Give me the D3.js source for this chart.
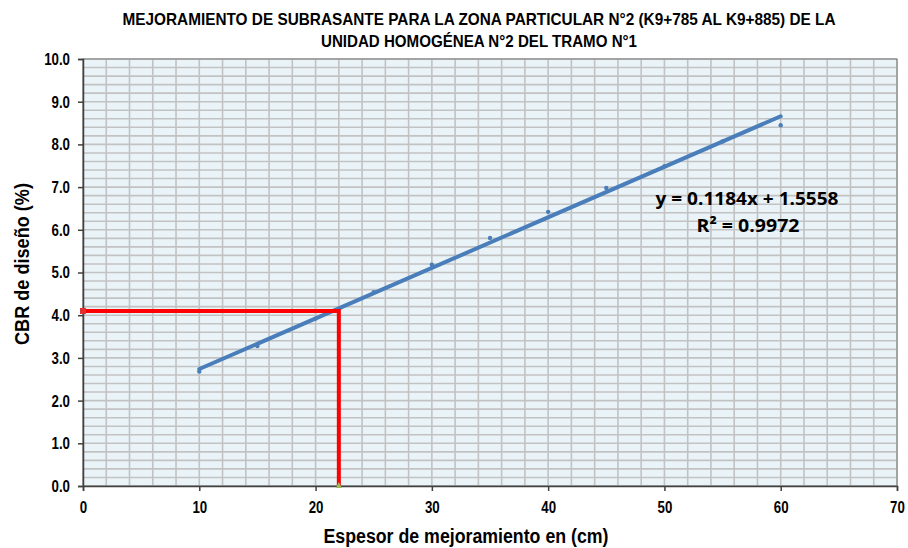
<!DOCTYPE html>
<html><head><meta charset="utf-8">
<script src="https://cdn.jsdelivr.net/npm/d3@7"></script>
<style>
body{margin:0;background:#fff;}
text{font-family:"Liberation Sans Narrow","Arial Narrow","Liberation Sans",sans-serif;}
</style></head>
<body><svg id="c" width="908" height="548"></svg>
<script>
const titleLines = ["MEJORAMIENTO DE SUBRASANTE PARA LA ZONA PARTICULAR N°2 (K9+785 AL K9+885) DE LA","UNIDAD HOMOGÉNEA N°2 DEL TRAMO N°1"];
const xTicks = [0,10,20,30,40,50,60,70];
const yTicks = [0,1,2,3,4,5,6,7,8,9,10];
const espesor = [10,15,20,25,30,35,40,45,50,55,60];
const cbr = [2.68,3.28,3.92,4.54,5.18,5.81,6.42,6.98,7.49,8.07,8.45];
const slope = 0.1184, intercept = 1.5558;
const trendX = [10,60];
const designX = 22, designY = 4.1;
const eqText = "y = 0.1184x + 1.5558";
const r2Text = "R² = 0.9972";

const svg = d3.select("#c");
const L=83, R=897, T=59, B=486;
const x = d3.scaleLinear().domain([0,70]).range([L,R]);
const y = d3.scaleLinear().domain([0,10]).range([B,T]);
function condense(sel, f){ sel.each(function(){ const w=this.getComputedTextLength(); d3.select(this).attr("textLength",w*f).attr("lengthAdjust","spacingAndGlyphs"); }); }

svg.append("rect").attr("x",L).attr("y",T).attr("width",R-L).attr("height",B-T).attr("fill","#eaf4f8");
const g = svg.append("g");
d3.range(0,70.001,2).forEach(v=>g.append("line").attr("x1",x(v)).attr("x2",x(v)).attr("y1",T).attr("y2",B).attr("stroke","#c2c2c2").attr("stroke-width",1.6));
d3.range(0,10.001,0.2).forEach(v=>g.append("line").attr("x1",L).attr("x2",R).attr("y1",y(v)).attr("y2",y(v)).attr("stroke","#c2c2c2").attr("stroke-width",1.6));
svg.append("rect").attr("x",L).attr("y",T).attr("width",R-L).attr("height",B-T).attr("fill","none").attr("stroke","#7a7a7a").attr("stroke-width",1);

const xa = svg.append("g").attr("transform",`translate(0,${B})`).call(d3.axisBottom(x).tickValues(xTicks).tickSize(5).tickPadding(10).tickFormat(d3.format("d")));
const ya = svg.append("g").attr("transform",`translate(${L},0)`).call(d3.axisLeft(y).tickValues(yTicks).tickSize(5).tickPadding(8).tickFormat(d3.format(".1f")));
[xa,ya].forEach(a=>{a.select(".domain").attr("stroke","#404040").attr("stroke-width",1.5);a.selectAll(".tick line").attr("stroke","#404040").attr("stroke-width",1.5);a.selectAll("text").attr("font-size",17).attr("font-weight","bold").attr("fill","#000").style("font-family","'Liberation Sans',sans-serif");});
condense(xa.selectAll("text"),0.78);
condense(ya.selectAll("text"),0.78);

// points
svg.append("g").selectAll("circle").data(espesor).join("circle").attr("cx",d=>x(d)).attr("cy",(d,i)=>y(cbr[i])).attr("r",2.2).attr("fill","#4a7ebb");
// trend
svg.append("line").attr("x1",x(trendX[0])).attr("y1",y(slope*trendX[0]+intercept)).attr("x2",x(trendX[1])).attr("y2",y(slope*trendX[1]+intercept)).attr("stroke","#4a7ebb").attr("stroke-width",4).attr("stroke-linecap","round");
// design lines
svg.append("path").attr("d",`M${x(0)},${y(designY)}H${x(designX)}V${y(0)}`).attr("fill","none").attr("stroke","#ff0000").attr("stroke-width",4);
svg.append("rect").attr("x",x(0)-3).attr("y",y(designY)-3).attr("width",6).attr("height",6).attr("fill","#e03030");
svg.append("path").attr("d",`M${x(designX)-3},${y(0)+2}L${x(designX)+3},${y(0)+2}L${x(designX)},${y(0)-4}Z`).attr("fill","#9bbb59");

// equation
const eq1 = svg.append("text").attr("x",747).attr("y",205).attr("text-anchor","middle").attr("font-size",18.5).attr("font-weight","bold").style("font-family","'Open Sans','Liberation Sans',sans-serif").text(eqText);
const eq2 = svg.append("text").attr("x",748).attr("y",232).attr("text-anchor","middle").attr("font-size",18.5).attr("font-weight","bold").style("font-family","'Open Sans','Liberation Sans',sans-serif").text(r2Text);
eq1.attr("textLength",183).attr("lengthAdjust","spacingAndGlyphs");
eq2.attr("textLength",103).attr("lengthAdjust","spacingAndGlyphs");

// titles
const tl = [713, 316];
titleLines.forEach((t,i)=>svg.append("text").attr("x",479).attr("y",25+i*22).attr("text-anchor","middle").attr("font-size",16.5).attr("font-weight","bold").attr("textLength",tl[i]).attr("lengthAdjust","spacingAndGlyphs").style("font-family","'Liberation Sans',sans-serif").text(t));
svg.append("text").attr("x",466).attr("y",543).attr("text-anchor","middle").attr("font-size",20).attr("font-weight","bold").attr("textLength",285).attr("lengthAdjust","spacingAndGlyphs").style("font-family","'Liberation Sans',sans-serif").text("Espesor de mejoramiento en (cm)");
svg.append("text").attr("transform","translate(29,264) rotate(-90)").attr("text-anchor","middle").attr("font-size",20).attr("font-weight","bold").attr("textLength",162).attr("lengthAdjust","spacingAndGlyphs").style("font-family","'Liberation Sans',sans-serif").text("CBR de diseño (%)");
</script></body></html>
